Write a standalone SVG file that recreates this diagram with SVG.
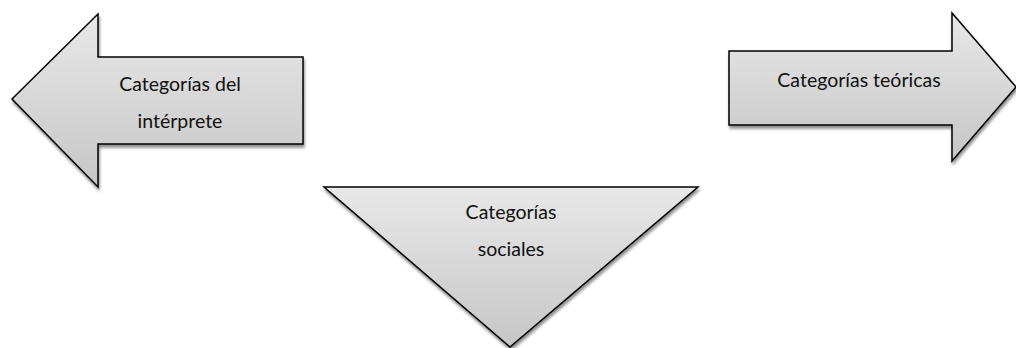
<svg xmlns="http://www.w3.org/2000/svg" width="1016" height="348" viewBox="0 0 1016 348">
  <defs>
    <linearGradient id="g" x1="0" y1="0" x2="0" y2="1">
      <stop offset="0" stop-color="#e8e8e8"/>
      <stop offset="1" stop-color="#c6c6c6"/>
    </linearGradient>
    <filter id="sh" x="-10%" y="-10%" width="120%" height="130%">
      <feGaussianBlur in="SourceAlpha" stdDeviation="1.5"/>
      <feOffset dx="1" dy="2.5" result="b"/>
      <feComponentTransfer><feFuncA type="linear" slope="0.45"/></feComponentTransfer>
      <feMerge><feMergeNode/><feMergeNode in="SourceGraphic"/></feMerge>
    </filter>
  </defs>
  <style>
    .shape { fill: url(#g); stroke: #000; stroke-width: 1.5; stroke-linejoin: miter; filter: url(#sh); }
    .lbl { font-family: Lato, "Liberation Sans", sans-serif; font-size: 19.5px; fill: #111; text-anchor: middle; }
  </style>
  <rect width="1016" height="348" fill="#fff"/>
  <g id="interprete">
    <polygon class="shape" points="12,99 98,14 98,57 303,57 303,144 98,144 98,187"/>
    <text class="lbl" x="180" y="91">Categorías del</text>
    <text class="lbl" x="180" y="128">intérprete</text>
  </g>
  <g id="teoricas">
    <polygon class="shape" points="729,51 952,51 952,13 1016,87 952,161 952,125 729,125"/>
    <text class="lbl" x="859" y="87">Categorías teóricas</text>
  </g>
  <g id="sociales">
    <polygon class="shape" points="324,187 698,187 510,347"/>
    <text class="lbl" x="511" y="219">Categorías</text>
    <text class="lbl" x="511" y="256">sociales</text>
  </g>
  <g id="connectors"/>
</svg>
